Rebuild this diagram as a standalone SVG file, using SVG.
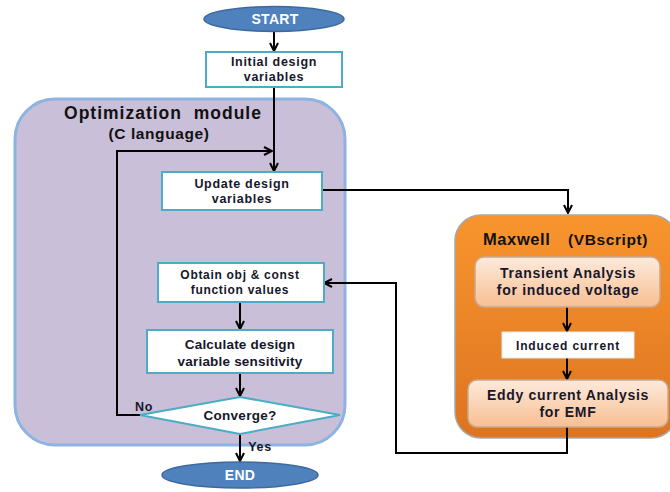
<svg xmlns="http://www.w3.org/2000/svg" width="670" height="492" viewBox="0 0 670 492">
<style>
text{font-family:"Liberation Sans",Arial,sans-serif;font-weight:bold;fill:#17172a;text-anchor:middle;letter-spacing:0.7px}
.term{fill:#4f81bd;stroke:#3d6a9e;stroke-width:1.5}
.tt{fill:#ffffff;font-size:14px;letter-spacing:0.3px}
.box{fill:#ffffff;stroke:#4bacc6;stroke-width:2}
.sub{fill:url(#peach);stroke:#c9a88e;stroke-width:1.5}
.ln{fill:none;stroke:#000;stroke-width:2}
.ttl{fill:#111111}
</style>
<defs>
<marker id="ah" viewBox="0 0 10 10" refX="9" refY="5" markerWidth="5" markerHeight="5" orient="auto" markerUnits="strokeWidth">
<path d="M1,1 L9,5 L1,9" fill="none" stroke="#000" stroke-width="2"/>
</marker>
<linearGradient id="orng" x1="0" y1="0" x2="0" y2="1">
<stop offset="0" stop-color="#f9952e"/>
<stop offset="1" stop-color="#dc7420"/>
</linearGradient>
<linearGradient id="peach" x1="0" y1="0" x2="0" y2="1">
<stop offset="0" stop-color="#fdeadb"/>
<stop offset="1" stop-color="#f8bf92"/>
</linearGradient>
</defs>
<g id="optimization-module">
<rect x="15" y="99" width="330" height="346" rx="40" fill="#c9bfd8" stroke="#8db3e2" stroke-width="3"/>
<text class="ttl" x="163" y="119" xml:space="preserve" style="font-size:17.5px;letter-spacing:1px">Optimization  module</text>
<text class="ttl" x="159" y="139" style="font-size:15.5px;letter-spacing:0.6px">(C language)</text>
</g>
<g id="maxwell-module">
<rect x="455" y="215" width="222" height="223" rx="26" fill="url(#orng)" stroke="#a8a8a8" stroke-width="1.5"/>
<text class="ttl" x="483" y="245" style="font-size:16.5px;text-anchor:start;letter-spacing:0.6px">Maxwell</text>
<text class="ttl" x="568" y="245" style="font-size:15.5px;text-anchor:start;letter-spacing:0.6px">(VBscript)</text>
</g>
<g id="connectors">
<line class="ln" x1="274" y1="32" x2="274" y2="51" marker-end="url(#ah)"/>
<line class="ln" x1="274" y1="87" x2="274" y2="171" marker-end="url(#ah)"/>
<polyline class="ln" points="141,415 117,415 117,151 272,151" marker-end="url(#ah)"/>
<polyline class="ln" points="322,190 568,190 568,213" marker-end="url(#ah)"/>
<line class="ln" x1="567" y1="307" x2="567" y2="331" marker-end="url(#ah)"/>
<line class="ln" x1="567" y1="358" x2="567" y2="379" marker-end="url(#ah)"/>
<polyline class="ln" points="567,427 567,453 396,453 396,283 324,283" marker-end="url(#ah)"/>
<line class="ln" x1="240" y1="302" x2="240" y2="329" marker-end="url(#ah)"/>
<line class="ln" x1="240" y1="373" x2="240" y2="396" marker-end="url(#ah)"/>
<line class="ln" x1="240" y1="434" x2="240" y2="461" marker-end="url(#ah)"/>
<text x="144" y="411" style="font-size:12.5px">No</text>
<text x="260" y="451" style="font-size:12.5px">Yes</text>
</g>
<g id="start">
<ellipse class="term" cx="274" cy="19" rx="70" ry="12.5"/>
<text class="tt" x="275" y="24">START</text>
</g>
<g id="initial">
<rect class="box" x="206" y="52" width="136" height="35"/>
<text x="274" y="66" style="font-size:12.5px">Initial design</text>
<text x="274" y="81" style="font-size:12.5px">variables</text>
</g>
<g id="update">
<rect class="box" x="162" y="172" width="160" height="38"/>
<text x="242" y="188" style="font-size:12.5px">Update design</text>
<text x="242" y="203" style="font-size:12.5px">variables</text>
</g>
<g id="obtain">
<rect class="box" x="158" y="263" width="166" height="39"/>
<text x="240" y="279" style="font-size:12px">Obtain obj &amp; const</text>
<text x="240" y="294" style="font-size:12px">function values</text>
</g>
<g id="calculate">
<rect class="box" x="147" y="330" width="186" height="43"/>
<text x="240" y="349" style="font-size:13.5px;letter-spacing:0.2px">Calculate design</text>
<text x="240" y="366" style="font-size:13.5px;letter-spacing:0.2px">variable sensitivity</text>
</g>
<g id="converge">
<polygon class="box" points="140,415 240,397 340,415 240,434"/>
<text x="240" y="420" style="font-size:13.5px;letter-spacing:0.3px">Converge?</text>
</g>
<g id="end">
<ellipse class="term" cx="240" cy="475" rx="78" ry="13"/>
<text class="tt" x="240" y="480">END</text>
</g>
<g id="transient">
<rect class="sub" x="475" y="257" width="185" height="50" rx="9"/>
<text x="568" y="278" style="font-size:14px">Transient Analysis</text>
<text x="568" y="295" style="font-size:14px">for induced voltage</text>
</g>
<g id="induced">
<rect x="502" y="332" width="132" height="26" fill="#ffffff" stroke="#e8e8e8" stroke-width="1"/>
<text x="568" y="350" style="font-size:12px;letter-spacing:0.9px">Induced current</text>
</g>
<g id="eddy">
<rect class="sub" x="468" y="380" width="200" height="47" rx="9"/>
<text x="568" y="400" style="font-size:14px">Eddy current Analysis</text>
<text x="568" y="417" style="font-size:14px">for EMF</text>
</g>
</svg>
